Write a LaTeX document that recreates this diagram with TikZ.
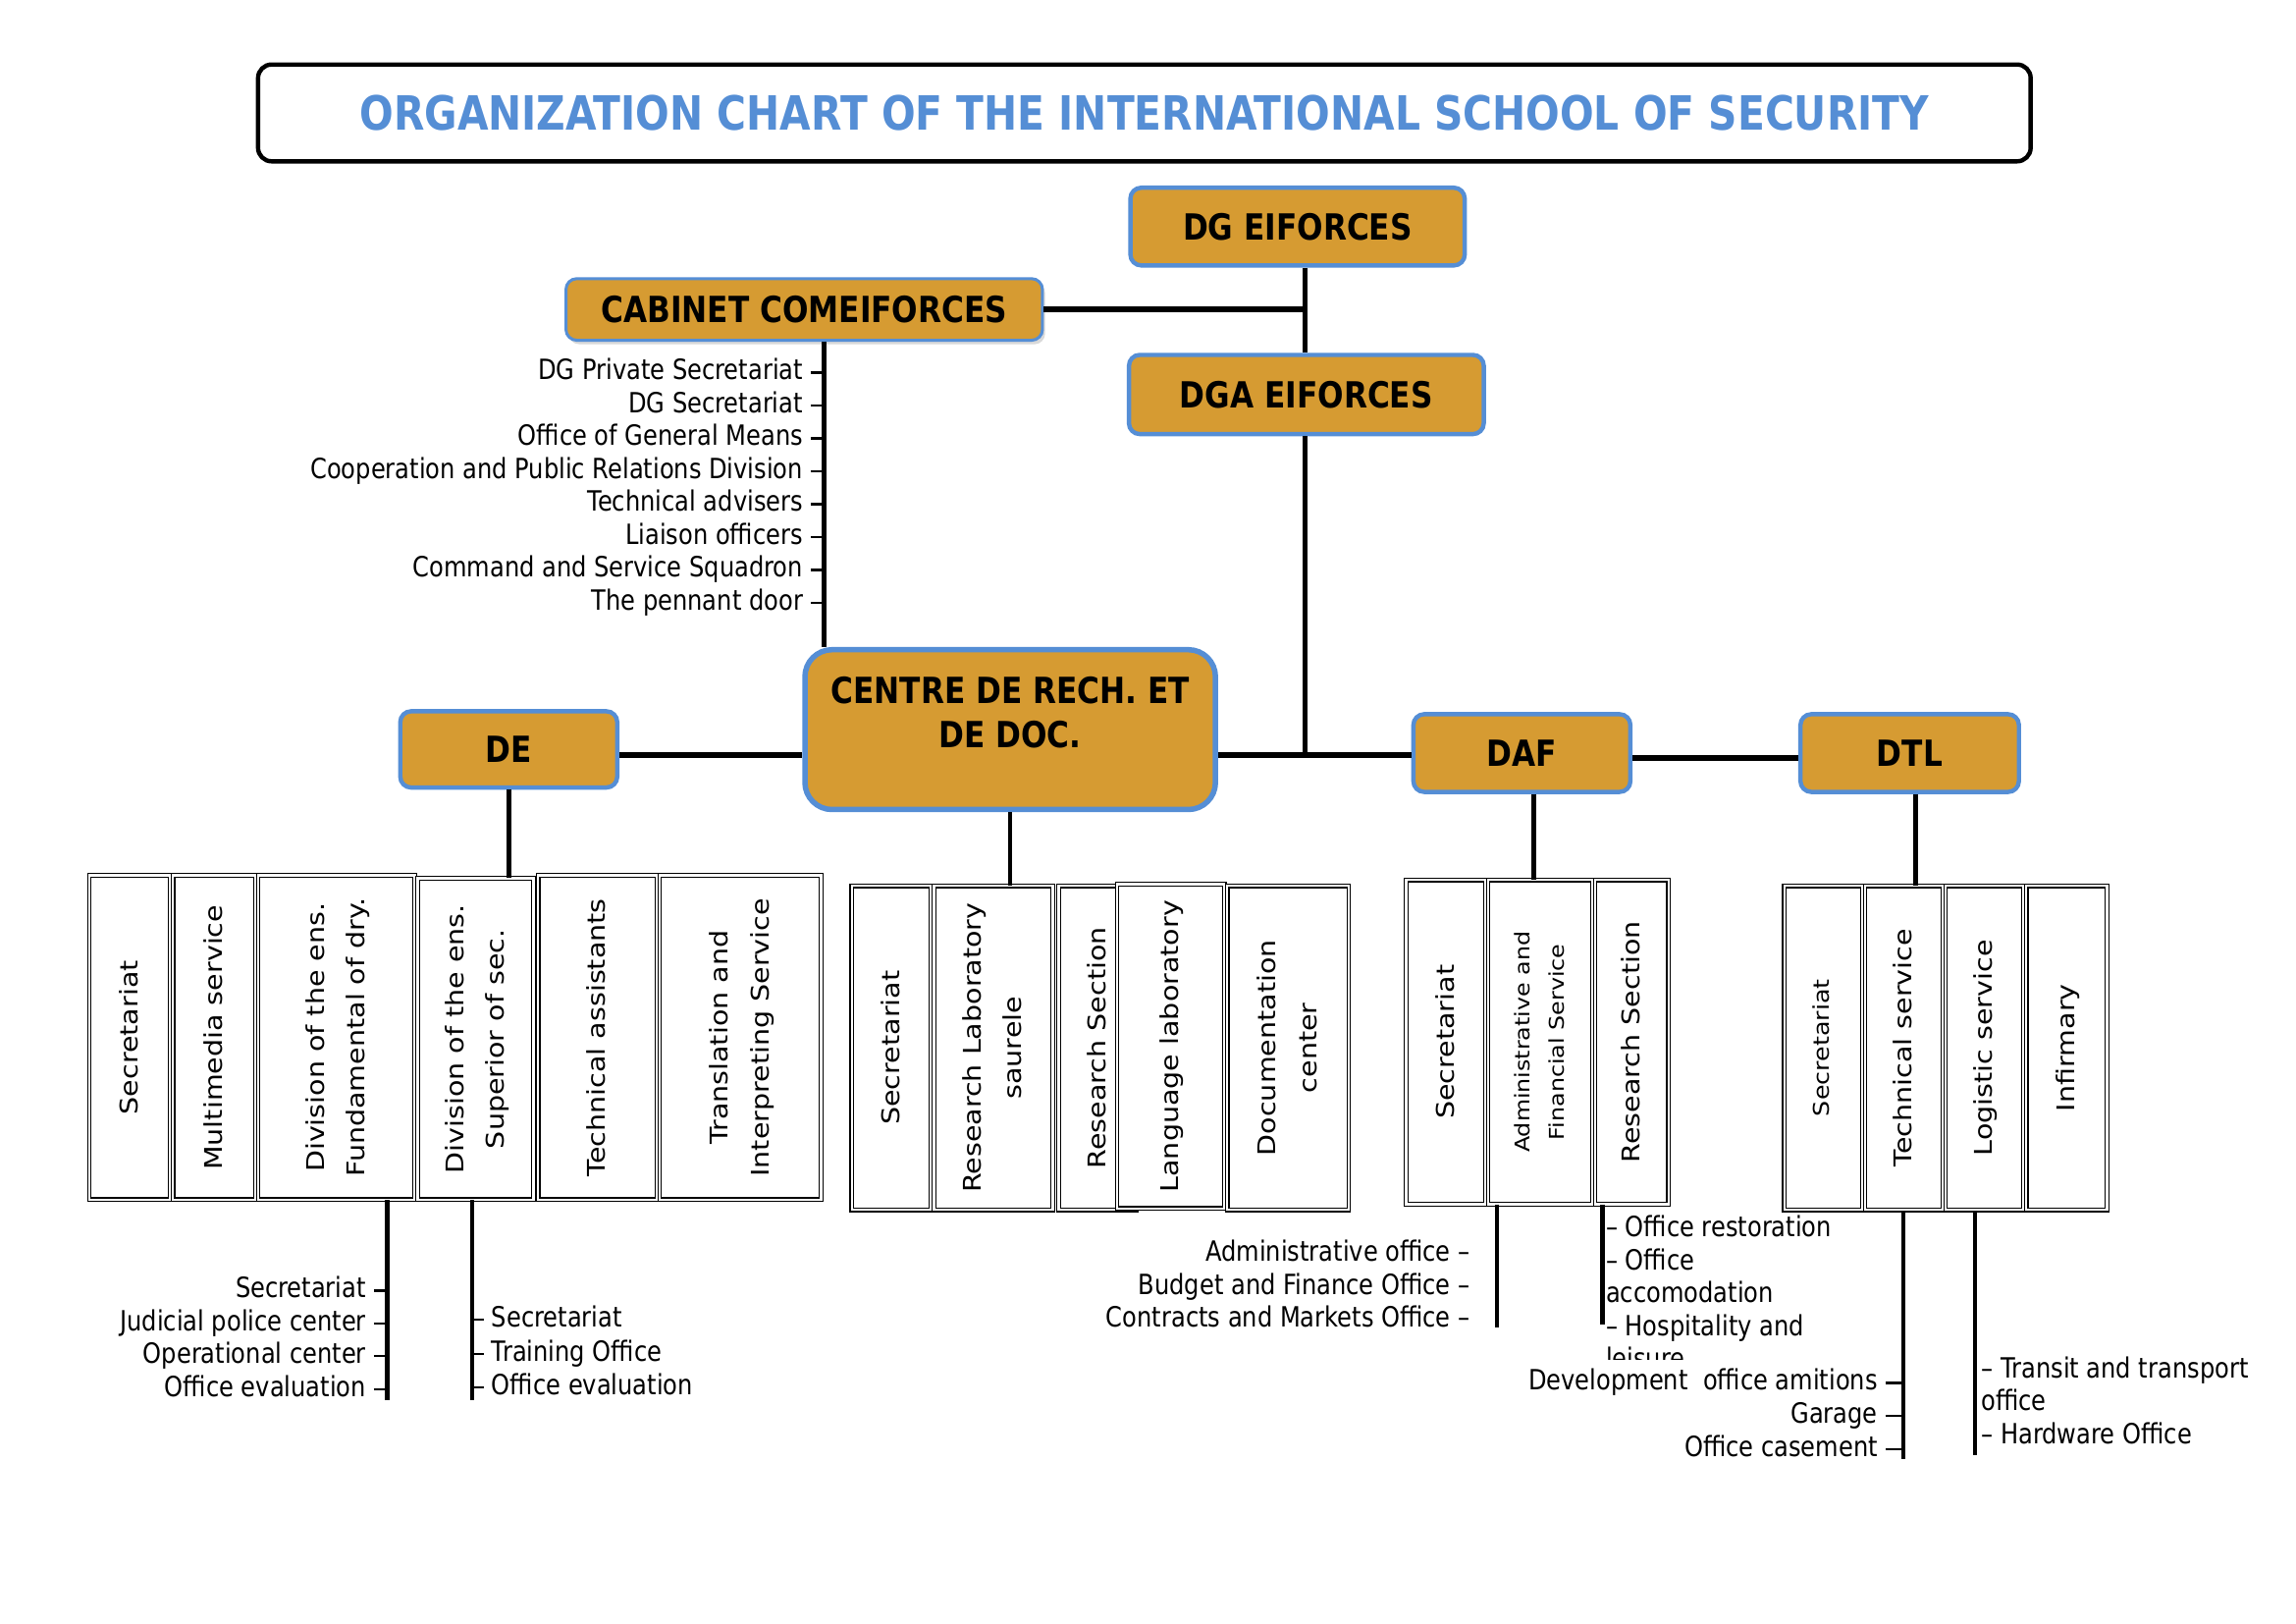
\documentclass[tikz,border=0pt]{standalone}
\usepackage{graphicx}
\usepackage{fontspec}
\setmainfont{DejaVu Sans}
\newfontfamily\narrowfont{DejaVu Sans}[FakeStretch=0.85]
\newfontfamily\vertfont{DejaVu Sans}[FakeStretch=1.15]
\usetikzlibrary{shadows}

\newdimen\unitpx
\unitpx=0.19038mm
\definecolor{boxgold}{RGB}{214,155,50}
\definecolor{boxblue}{RGB}{85,142,213}
\newcommand\vlabel[1]{\rotatebox{90}{\begin{tabular}{@{}c@{}}#1\end{tabular}}}

\begin{document}
\begin{tikzpicture}[x=\unitpx, y=-\unitpx,
    head/.style={draw=boxblue, fill=boxgold, line width=1.6pt, rounded corners=4pt, inner sep=0pt,
        align=center, font=\narrowfont\bfseries\fontsize{13.3}{16.2}\selectfont},
    unit/.style={draw, double, double distance=0.9pt, line width=0.4pt, fill=white, inner sep=0pt,
        minimum height=221\unitpx, font=\vertfont\fontsize{9}{15}\selectfont},
    item/.style={inner ysep=0pt, inner xsep=5\unitpx, text height=7.6pt, text depth=2.2pt,
        font=\narrowfont\fontsize{10.3}{12.15}\selectfont},
    block/.style={inner sep=0pt, align=left, font=\narrowfont\fontsize{10.3}{12.15}\selectfont},
    link/.style={line width=1.7pt},
    stem/.style={line width=1.6pt},
    tick/.style={line width=0.8pt}]
    \useasboundingbox (0,0) rectangle (1566,1107.3);

    % Title
    \node[draw, line width=1.6pt, rounded corners=5pt, minimum width=1209\unitpx, minimum height=66\unitpx,
        text=boxblue, font=\narrowfont\bfseries\fontsize{17.4}{20}\selectfont] (title) at (780.5,77)
        {ORGANIZATION CHART OF THE INTERNATIONAL SCHOOL OF SECURITY};

    % Define directions
    \node[head, minimum width=228\unitpx, minimum height=53\unitpx] (dg) at (885,154.5) {DG EIFORCES};
    \node[head, line width=1.1pt, drop shadow={opacity=0.3, shadow xshift=1pt, shadow yshift=-1.5pt},
        minimum width=325\unitpx, minimum height=42\unitpx] (cab) at (548.5,211) {CABINET COMEIFORCES};
    \node[head, minimum width=242\unitpx, minimum height=54\unitpx] (dga) at (891,269) {DGA EIFORCES};
    \node[head, line width=2pt, rounded corners=10pt, minimum width=280\unitpx, minimum height=109\unitpx,
        text depth=13pt] (crd) at (689,497.5) {CENTRE DE RECH. ET\\DE DOC.};
    \node[head, minimum width=148\unitpx, minimum height=52\unitpx] (de) at (347,511) {DE};
    \node[head, minimum width=148\unitpx, minimum height=53\unitpx] (daf) at (1038,513.5) {DAF};
    \node[head, minimum width=149\unitpx, minimum height=53\unitpx] (dtl) at (1302.5,513.5) {DTL};

    \coordinate (hub) at (890,515);
    \coordinate (cabx) at (562,0);
    \coordinate (daflvl) at (0,517);

    % Define links
    \draw[link] (dg.south -| hub) -- (dga.north -| hub);
    \draw[link, line width=2.2pt] (cab.east) -- (cab.east -| hub);
    \draw[link] (dga.south -| hub) -- (hub);
    \draw[link, line width=2.2pt] (de.east |- hub) -- (crd.west |- hub);
    \draw[link, line width=2.2pt] (crd.east |- hub) -- (daf.west |- hub);
    \draw[link, line width=2.2pt] (daf.east |- daflvl) -- (dtl.west |- daflvl);
    \draw[link] (cab.south -| cabx) -- (crd.north -| cabx);

    % Cabinet list
    \foreach \t [count=\i] in {DG Private Secretariat, DG Secretariat, Office of General Means,
        Cooperation and Public Relations Division, Technical advisers, Liaison officers,
        Command and Service Squadron, The pennant door} {
        \node[item, anchor=east] (cab\i) at (553, 231.6+22.43*\i) {\t};
        \draw[tick] (cab\i.east) -- (cab\i.east -| cabx);
    }

    % DE units
    \node[unit, minimum width=55\unitpx] (de1) at (88.5,707.5) {\vlabel{Secretariat}};
    \node[unit, minimum width=56\unitpx] (de2) at (146,707.5) {\vlabel{Multimedia service}};
    \node[unit, minimum width=107\unitpx] (de3) at (229.5,707.5) {\vlabel{Division of the ens.\\Fundamental of dry.}};
    \node[unit, minimum width=79\unitpx, minimum height=219\unitpx] (de4) at (324.5,708.5) {\vlabel{Division of the ens.\\Superior of sec.}};
    \node[unit, minimum width=81\unitpx] (de5) at (407.5,707.5) {\vlabel{Technical assistants}};
    \node[unit, minimum width=110\unitpx] (de6) at (505,707.5) {\vlabel{Translation and\\Interpreting Service}};
    \draw[link] (de.south) -- (de.south |- de4.north);

    % Centre units
    \node[unit, minimum width=54\unitpx] (cr1) at (608,714.5) {\vlabel{Secretariat}};
    \node[unit, minimum width=81\unitpx] (cr2) at (677.5,714.5) {\vlabel{Research Laboratory\\saurele}};
    \node[unit, minimum width=53\unitpx] (cr3) at (748.5,714.5) {\vlabel{Research Section}};
    \node[unit, minimum width=73\unitpx] (cr4) at (798.5,713.5) {\vlabel{Language laboratory}};
    \node[unit, minimum width=83\unitpx] (cr5) at (878.5,714.5) {\vlabel{Documentation\\center}};
    \draw[link] (crd.south) -- (crd.south |- cr2.north);

    % DAF units
    \node[unit, minimum width=54\unitpx] (da1) at (986,710.5) {\vlabel{Secretariat}};
    \node[unit, minimum width=71\unitpx, font=\vertfont\fontsize{7.5}{12.5}\selectfont] (da2) at (1050.5,710.5)
        {\vlabel{Administrative and\\Financial Service}};
    \node[unit, minimum width=50\unitpx] (da3) at (1113,710.5) {\vlabel{Research Section}};
    \draw[link] ([xshift=8\unitpx]daf.south) -- ([xshift=8\unitpx]daf.south |- da2.north);

    % DTL units
    \node[unit, minimum width=53\unitpx, font=\vertfont\fontsize{8}{12}\selectfont] (dt1) at (1243.5,714.5) {\vlabel{Secretariat}};
    \node[unit, minimum width=53\unitpx] (dt2) at (1298.5,714.5) {\vlabel{Technical service}};
    \node[unit, minimum width=53\unitpx] (dt3) at (1353.5,714.5) {\vlabel{Logistic service}};
    \node[unit, minimum width=55\unitpx] (dt4) at (1409.5,714.5) {\vlabel{Infirmary}};
    \draw[link] ([xshift=4\unitpx]dtl.south) -- ([xshift=4\unitpx]dtl.south |- dt2.north);

    % DE offices
    \coordinate (s1) at (264,955);
    \coordinate (s2) at (322,955);
    \draw[stem] (de3.south -| s1) -- (s1);
    \draw[stem] (de4.south -| s2) -- (s2);
    \foreach \t [count=\i] in {Secretariat, Judicial police center, Operational center, Office evaluation} {
        \node[item, anchor=east] (del\i) at (255, 857.6+22.4*\i) {\t};
        \draw[tick] (del\i.east) -- (del\i.east -| s1);
    }
    \foreach \t [count=\i] in {Secretariat, Training Office, Office evaluation} {
        \node[item, anchor=west] (der\i) at (330, 877+23*\i) {\t};
        \draw[tick] (der\i.west) -- (der\i.west -| s2);
    }

    % DAF offices
    \coordinate (s3) at (1021,905);
    \coordinate (s4) at (1093,903);
    \draw[stem] (da2.south -| s3) -- (s3);
    \draw[stem] (da3.south -| s4) -- (s4);
    \foreach \t [count=\i] in {Administrative office –, Budget and Finance Office –, Contracts and Markets Office –} {
        \node[item, anchor=east, inner xsep=0pt] (dal\i) at (1003, 832.5+22.5*\i) {\t};
    }
    \begin{scope}
        \clip (1088,822) rectangle (1300,927);
        \node[block, anchor=north west] (dar) at (1095,828.5)
            {– Office restoration\\– Office\\accomodation\\– Hospitality and\\leisure};
    \end{scope}

    % DTL offices
    \coordinate (s5) at (1298,995);
    \coordinate (s6) at (1347,992);
    \draw[stem] (dt2.south -| s5) -- (s5);
    \draw[stem] (dt3.south -| s6) -- (s6);
    \foreach \t [count=\i] in {Development\ \ office amitions, Garage, Office casement} {
        \node[item, anchor=east] (dtl\i) at (1286, 920.5+22.5*\i) {\t};
        \draw[tick] (dtl\i.east) -- (dtl\i.east -| s5);
    }
    \node[block, anchor=north west] (dtr) at (1351,924.5)
        {– Transit and transport\\office\\– Hardware Office};
\end{tikzpicture}
\end{document}
